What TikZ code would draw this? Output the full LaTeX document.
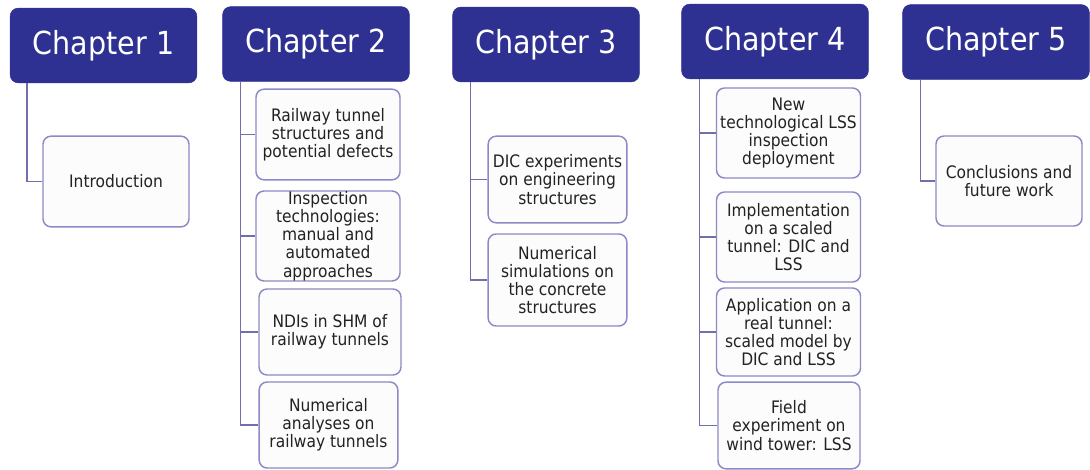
\documentclass[tikz,border=0pt]{standalone}
\usepackage{fontspec}
\setmainfont{DejaVu Sans Condensed}
\definecolor{hdr}{HTML}{2E3192}
\definecolor{cbord}{HTML}{8B89C6}
\definecolor{cfill}{HTML}{FCFCFC}
\definecolor{link}{HTML}{716FAC}
\definecolor{ctext}{HTML}{222222}
\begin{document}
\begin{tikzpicture}[x=0.75pt,y=-0.75pt,
  chap/.style={fill=hdr, draw=hdr, rounded corners=6pt, text=white,
    minimum width=140pt, minimum height=56pt, inner sep=0pt,
    font=\fontsize{23.8}{28}\selectfont},
  sub/.style={fill=cfill, draw=cbord, line width=1.1pt, rounded corners=6pt,
    text=ctext, minimum width=108pt, minimum height=66pt, inner sep=0pt,
    align=center, font=\fontsize{12.9}{13.6}\selectfont},
  lnk/.style={draw=link, line width=1.2pt}]
\fill[white] (0,0) rectangle (1090,470);
% headers
\node[chap] (ch1) at (103.5,45.5) {Chapter 1};
\node[chap] (ch2) at (316,44) {Chapter 2};
\node[chap] (ch3) at (546,44.5) {Chapter 3};
\node[chap] (ch4) at (775,41.5) {Chapter 4};
\node[chap] (ch5) at (996,42) {Chapter 5};
% children
\node[sub, minimum width=109.5pt, minimum height=68pt] (intro) at (116,181.5) {Introduction};
\node[sub, minimum height=68pt] (c2a) at (328,134.5) {Railway tunnel\\structures and\\potential defects};
\node[sub, minimum height=67.5pt] (c2b) at (328,236) {Inspection\\technologies:\\manual and\\automated\\approaches};
\node[sub, minimum width=106.5pt, minimum height=64.5pt] (c2c) at (330,332) {NDIs in SHM of\\railway tunnels};
\node[sub, minimum width=104pt, minimum height=64.5pt] (c2d) at (328.5,425) {Numerical\\analyses on\\railway tunnels};
\node[sub, minimum width=104pt, minimum height=65pt] (c3a) at (557.5,179.5) {DIC experiments\\on engineering\\structures};
\node[sub, minimum width=104pt, minimum height=69pt] (c3b) at (557.5,280) {Numerical\\simulations on\\the concrete\\structures};
\node[sub, minimum height=67.5pt] (c4a) at (788.5,133) {New\\technological LSS\\inspection\\deployment};
\node[sub, minimum height=67.5pt] (c4b) at (788.5,237) {Implementation\\on a scaled\\tunnel: DIC and\\LSS};
\node[sub, minimum height=66pt] (c4c) at (788.5,332) {Application on a\\real tunnel:\\scaled model by\\DIC and LSS};
\node[sub, minimum width=106.5pt, minimum height=65pt] (c4d) at (789,425.5) {Field\\experiment on\\wind tower: LSS};
\node[sub, minimum width=109.5pt, minimum height=67.5pt] (c5) at (1009,181) {Conclusions and\\future work};
% connectors
\draw[lnk] (ch1.south west) ++(17,0) |- (intro.west);
\foreach \c in {c2a,c2b,c2c,c2d} \draw[lnk] (ch2.south west) ++(18,0) |- (\c.west);
\foreach \c in {c3a,c3b} \draw[lnk] (ch3.south west) ++(18,0) |- (\c.west);
\foreach \c in {c4a,c4b,c4c,c4d} \draw[lnk] (ch4.south west) ++(18,0) |- (\c.west);
\draw[lnk] (ch5.south west) ++(18,0) |- (c5.west);
\end{tikzpicture}
\end{document}
